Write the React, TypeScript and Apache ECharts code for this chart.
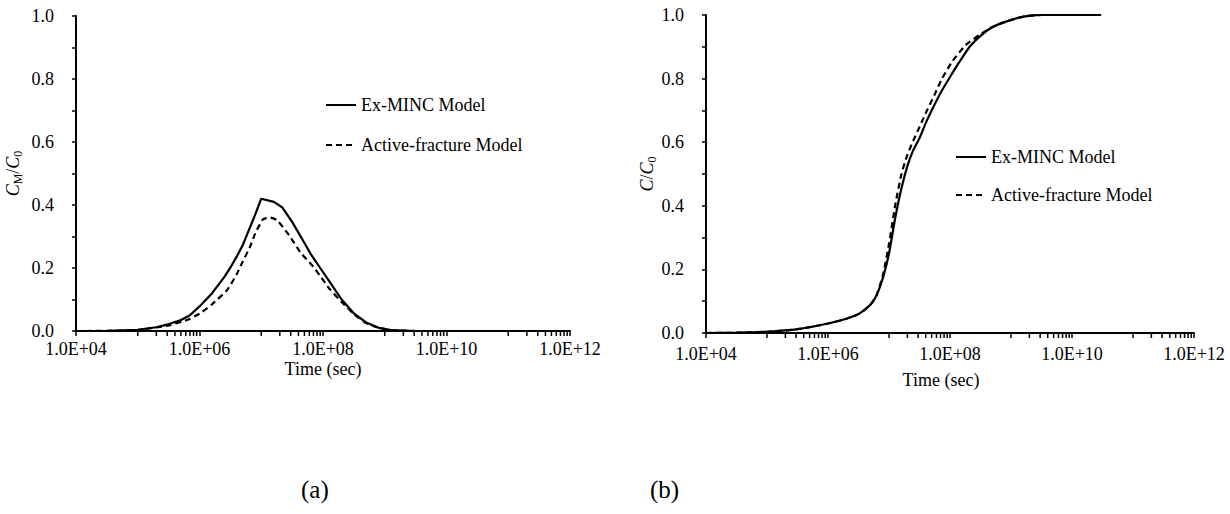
import React, { useEffect, useRef } from "react";
import * as echarts from "echarts";

// ---------- Data ----------
const seriesNames = ["Ex-MINC Model", "Active-fracture Model"];

// (a) matrix concentration C_M/C_0
const aSolidTime = [1e4, 3.2e4, 1e5, 2e5, 3.2e5, 5e5, 7e5, 1e6, 1.6e6, 2.5e6, 3.2e6, 4e6, 5e6, 6.3e6, 8e6, 1e7, 1.6e7, 2.2e7, 3.2e7, 4.5e7, 6.3e7, 9e7, 1.26e8, 2e8, 3.2e8, 5e8, 8e8, 1.26e9, 3.2e9];
const aSolidValue = [0, 0.0005, 0.004, 0.012, 0.022, 0.035, 0.05, 0.078, 0.12, 0.17, 0.203, 0.236, 0.272, 0.32, 0.37, 0.42, 0.41, 0.392, 0.345, 0.295, 0.245, 0.2, 0.158, 0.1, 0.055, 0.027, 0.01, 0.003, 0];
const aDashTime = [1e4, 3.2e4, 1e5, 3.2e5, 6.3e5, 1e6, 1.6e6, 2.8e6, 4e6, 5e6, 6.5e6, 8e6, 1.07e7, 1.4e7, 1.8e7, 2.8e7, 4.3e7, 6.9e7, 9e7, 1.26e8, 2.1e8, 3.2e8, 5e8, 8e8, 1.26e9, 3.2e9];
const aDashValue = [0, 0.0004, 0.003, 0.018, 0.035, 0.055, 0.085, 0.13, 0.18, 0.22, 0.265, 0.31, 0.355, 0.36, 0.352, 0.305, 0.25, 0.205, 0.175, 0.135, 0.088, 0.053, 0.025, 0.01, 0.003, 0];

// (b) concentration C/C_0
const bSolidTime = [1e4, 3.2e4, 1e5, 3.2e5, 1e6, 2e6, 3.2e6, 5e6, 6.3e6, 8e6, 1e7, 1.26e7, 1.6e7, 2e7, 2.5e7, 3.2e7, 4e7, 5e7, 7e7, 1e8, 1.4e8, 2.1e8, 3.2e8, 5e8, 8.5e8, 1.6e9, 3.2e9, 3e10];
const bSolidValue = [0, 0.001, 0.004, 0.012, 0.03, 0.045, 0.06, 0.09, 0.12, 0.175, 0.25, 0.36, 0.455, 0.525, 0.575, 0.615, 0.66, 0.7, 0.755, 0.805, 0.85, 0.9, 0.935, 0.962, 0.98, 0.995, 1.0, 1.0];
const bDashTime = [1e4, 3.2e4, 1e5, 3.2e5, 1e6, 2e6, 3.2e6, 5e6, 6.3e6, 8e6, 1e7, 1.26e7, 1.6e7, 2e7, 2.5e7, 3.2e7, 4.2e7, 5.6e7, 7.4e7, 1.1e8, 1.8e8, 3.2e8, 5e8, 8.5e8, 1.6e9, 3.2e9, 3e10];
const bDashValue = [0, 0.001, 0.004, 0.012, 0.03, 0.045, 0.06, 0.09, 0.12, 0.185, 0.28, 0.4, 0.5, 0.56, 0.605, 0.65, 0.7, 0.75, 0.8, 0.855, 0.905, 0.94, 0.963, 0.98, 0.995, 1.0, 1.0];

// minor ticks of the log axis (Excel style, base-100 major unit)
const minorTickValues = [
  1e5, 2e5, 3e5, 4e5, 5e5, 6e5, 7e5, 8e5, 9e5,
  1e7, 2e7, 3e7, 4e7, 5e7, 6e7, 7e7, 8e7, 9e7,
  1e9, 2e9, 3e9, 4e9, 5e9, 6e9, 7e9, 8e9, 9e9,
  1e11, 2e11, 3e11, 4e11, 5e11, 6e11, 7e11, 8e11, 9e11,
];

const captions = ["(a)", "(b)"];

const FONT = "'Liberation Serif', 'Times New Roman', serif";

const zip = (t: number[], v: number[]) => t.map((x, i) => [x, v[i]]);

function xAxisFmt(v: number) {
  const e = Math.round(Math.log10(v));
  return "1.0E+" + String(e).padStart(2, "0");
}

export default function App() {
  const ref = useRef<HTMLDivElement>(null);

  useEffect(() => {
    if (!ref.current) return;
    const chart = echarts.init(ref.current, undefined, { renderer: "svg" });

    const xAxisBase = (gridIndex: number, nameOffset: number, labelMargin: number, nameGap: number) => ({
      type: "log" as const,
      gridIndex,
      logBase: 100,
      min: 1e4,
      max: 1e12,
      name: "Time (sec)",
      nameLocation: "middle" as const,
      nameGap,
      nameMoveOverlap: false,
      nameTextStyle: {
        fontFamily: FONT,
        fontSize: 18,
        color: "#000",
        padding: [0, nameOffset, 0, 0],
      },
      axisLine: { show: true, lineStyle: { color: "#000", width: 2 } },
      axisTick: { show: true, length: 5, lineStyle: { color: "#000", width: 1.5 } },
      axisLabel: {
        formatter: xAxisFmt,
        fontFamily: FONT,
        fontSize: 18,
        color: "#000",
        margin: labelMargin,
      },
      splitLine: { show: false },
      minorTick: { show: false },
    });

    const yAxisBase = (gridIndex: number, name: string, gap: number) => ({
      type: "value" as const,
      gridIndex,
      min: 0,
      max: 1,
      interval: 0.1,
      name,
      nameLocation: "middle" as const,
      nameGap: gap,
      nameTextStyle: {
        fontFamily: FONT,
        color: "#000",
        rich: {
          i: { fontFamily: FONT, fontStyle: "italic", fontSize: 18, lineHeight: 22, verticalAlign: "middle", color: "#000" },
          n: { fontFamily: FONT, fontSize: 18, lineHeight: 22, verticalAlign: "middle", color: "#000" },
          s: { fontFamily: FONT, fontSize: 12, lineHeight: 13, verticalAlign: "bottom", color: "#000" },
        },
      },
      axisLine: { show: true, lineStyle: { color: "#000", width: 2 } },
      axisTick: { show: true, length: 4, lineStyle: { color: "#000", width: 1.5 } },
      axisLabel: {
        formatter: (v: number) => (Math.round(v * 10) % 2 === 0 ? v.toFixed(1) : ""),
        fontFamily: FONT,
        fontSize: 18,
        color: "#000",
        margin: 22,
      },
      splitLine: { show: false },
    });

    const lineSeries = (name: string, data: number[][], idx: number, dashed: boolean, smooth: number) => ({
      type: "line" as const,
      name,
      xAxisIndex: idx,
      yAxisIndex: idx,
      data,
      showSymbol: false,
      symbol: "none",
      smooth,
      lineStyle: { color: "#000", width: 2.2, type: dashed ? [6, 4] : "solid" },
      itemStyle: { color: "#000" },
      silent: true,
    });

    const minorTicks = (idx: number) => ({
      type: "custom" as const,
      xAxisIndex: idx,
      yAxisIndex: idx,
      silent: true,
      clip: false,
      z: 10,
      data: minorTickValues.map((v) => [v, 0]),
      encode: { x: 0, y: 1 },
      renderItem: (params: any, api: any) => {
        const p = api.coord([api.value(0), 0]);
        return {
          type: "line",
          shape: { x1: p[0], y1: p[1], x2: p[0], y2: p[1] + 5 },
          style: { stroke: "#000", lineWidth: 1.5 },
        };
      },
    });

    const legendBase = (left: number, top: number, gap: number) => ({
      orient: "vertical" as const,
      left,
      top,
      itemWidth: 30,
      itemHeight: 14,
      itemGap: gap,
      data: seriesNames,
      selectedMode: false,
      itemStyle: { color: "rgba(0,0,0,0)", borderWidth: 0, opacity: 0 },
      textStyle: { fontFamily: FONT, fontSize: 18, color: "#000", lineHeight: 20 },
    });

    chart.setOption({
      animation: false,
      backgroundColor: "#fff",
      grid: [
        { left: 76, top: 16, width: 494, height: 315 },
        { left: 706, top: 15, width: 488, height: 318 },
      ],
      xAxis: [xAxisBase(0, 0, 9, 29), xAxisBase(1, 18, 12, 38)],
      yAxis: [
        yAxisBase(0, "{i|C}{s|M}{n|/}{i|C}{s|0}", 52),
        yAxisBase(1, "{i|C}{n|/}{i|C}{s|0}", 48),
      ],
      legend: [legendBase(320, 90, 20), legendBase(950, 142, 18)],
      series: [
        lineSeries(seriesNames[0], zip(aSolidTime, aSolidValue), 0, false, 0),
        lineSeries(seriesNames[1], zip(aDashTime, aDashValue), 0, true, 0.15),
        lineSeries(seriesNames[0], zip(bSolidTime, bSolidValue), 1, false, 0.2),
        lineSeries(seriesNames[1], zip(bDashTime, bDashValue), 1, true, 0.2),
        minorTicks(0),
        minorTicks(1),
      ],
      graphic: [
        {
          type: "text",
          left: 301,
          top: 477,
          style: { text: captions[0], font: "25px " + FONT, fill: "#000" },
        },
        {
          type: "text",
          left: 650,
          top: 477,
          style: { text: captions[1], font: "25px " + FONT, fill: "#000" },
        },
      ],
    });

    return () => chart.dispose();
  }, []);

  return (
    <div
      ref={ref}
      style={{ position: "absolute", left: 0, top: 0, width: 1230, height: 514, background: "#fff" }}
    />
  );
}
